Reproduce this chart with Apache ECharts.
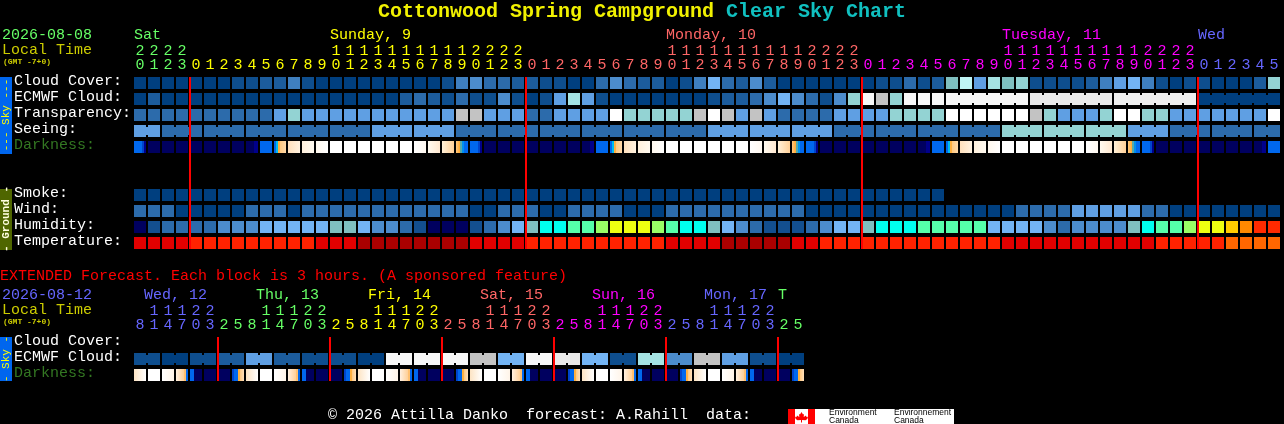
<!DOCTYPE html>
<html><head><meta charset="utf-8">
<style>html,body{margin:0;padding:0;background:#000;overflow:hidden}#c{width:1284px;height:424px}</style>
<script src="https://cdn.jsdelivr.net/npm/echarts@6/dist/echarts.min.js"></script>
</head><body><div id="c"></div>
<script>
const MONO='"Liberation Mono","DejaVu Sans Mono",monospace';
// ---- categories
const hoursMain=[20,21,22,23,
 0,1,2,3,4,5,6,7,8,9,10,11,12,13,14,15,16,17,18,19,20,21,22,23,
 0,1,2,3,4,5,6,7,8,9,10,11,12,13,14,15,16,17,18,19,20,21,22,23,
 0,1,2,3,4,5,6,7,8,9,10,11,12,13,14,15,16,17,18,19,20,21,22,23,
 0,1,2,3,4,5];
const hoursExt=[8,11,14,17,20,23,2,5,8,11,14,17,20,23,2,5,8,11,14,17,20,23,2,5,8,11,14,17,20,23,2,5,8,11,14,17,20,23,2,5,8,11,14,17,20,23,2,5];
const mainRows=['Cloud Cover:','ECMWF Cloud:','Transparency:','Seeing:','Darkness:','','','Smoke:','Wind:','Humidity:','Temperature:'];
const extRows=['Cloud Cover:','ECMWF Cloud:','Darkness:'];
const mainDays=[['Sat',0],['Sunday, 9',14],['Monday, 10',38],['Tuesday, 11',62],['Wed',76]];
const extDays=[['Wed, 12',0],['Thu, 13',8],['Fri, 14',16],['Sat, 15',24],['Sun, 16',32],['Mon, 17',40],['T',46]];
const mainMidnights=[4,28,52,76];
const extMidnights=[6,14,22,30,38,46];
// ---- series values (palette levels)
const cloudCover=[0,0,0,0,0,0,0,1,1,2,2,4,1,0,0,0,0,0,0,0,0,0,1,4,5,3,3,2,2,1,1,0,0,3,5,3,2,2,0,1,4,7,3,2,5,2,0,0,0,0,0,0,0,1,1,3,1,2,8,11,6,10,8,9,1,1,1,1,2,4,6,7,4,1,0,1,1,0,0,0,2,9];
const ecmwfCloud=[0,2,0,0,0,0,0,0,0,0,0,0,0,0,0,0,0,0,0,2,3,2,1,3,1,1,5,1,0,1,6,10,6,1,0,0,0,0,0,0,0,1,2,2,3,5,7,5,3,1,5,9,15,12,9,15,15,15,15,15,15,15,15,15,13,13,13,13,13,13,16,16,16,16,16,16,0,0,0,0,0,0];
const ecmwfRuns=[1,1,1,1,1,1,1,1,1,1,1,1,1,1,1,1,1,1,1,1,1,1,1,1,1,1,1,1,1,1,1,1,1,1,1,1,1,1,1,1,1,1,1,1,1,1,1,1,1,1,1,1,1,1,1,1,1,1,6,6,6,6];
const transparency=[3,3,3,3,3,3,3,3,3,3,6,9,6,6,6,6,6,6,6,6,6,6,6,12,12,6,6,6,3,3,6,6,6,6,14,9,9,9,9,9,12,14,12,6,12,6,3,3,3,3,6,6,6,6,9,9,9,9,14,14,14,14,14,14,12,9,6,6,6,9,14,14,9,9,6,6,6,6,6,6,6,14];
const seeing=[6,6,3,3,3,3,3,3,3,3,3,3,3,3,3,3,3,6,6,6,6,6,6,3,3,3,3,3,3,3,3,3,3,3,3,3,3,3,3,3,3,6,6,6,6,6,6,6,6,6,3,3,3,3,3,3,3,3,3,3,3,3,9,9,9,9,9,9,9,9,9,6,6,6,3,3,3,3,3,3,3,3];
const seeingRuns=[2,3,3,3,3,3,3,3,3,3,3,3,3,3,3,3,3,3,3,3,3,3,3,3,3,3,3,2];
const darkness=[12,0,0,0,0,0,0,0,1,2,3,4,5,6,7,7,7,7,7,7,8,9,10,11,12,0,0,0,0,0,0,0,1,2,3,4,5,6,7,7,7,7,7,7,8,9,10,11,12,0,0,0,0,0,0,0,1,2,3,4,5,6,7,7,7,7,7,7,8,9,10,11,12,0,0,0,0,0,0,0,1,2];
const smoke=[0,0,0,0,0,0,0,0,0,0,0,0,0,0,0,0,0,0,0,0,0,0,0,0,0,0,0,0,0,0,0,0,0,0,0,0,0,0,0,0,0,0,0,0,0,0,0,0,0,0,0,0,0,0,0,0,0,0];
const wind=[3,3,3,0,0,0,0,0,3,3,3,0,3,3,3,3,3,3,3,3,3,3,3,3,0,0,3,3,3,0,0,3,3,3,3,0,0,0,3,3,3,3,3,3,3,3,3,3,0,0,0,0,0,0,0,0,0,0,0,0,0,0,0,3,3,3,3,6,6,6,6,6,3,3,0,0,0,0,0,0,0,0];
const humidity=[0,1,2,2,2,2,3,3,3,4,4,4,4,4,5,5,4,3,3,2,1,0,0,0,1,2,3,4,5,6,6,7,7,8,9,9,9,8,7,6,6,5,4,3,2,1,1,1,2,3,4,4,5,6,6,6,7,7,7,7,7,4,4,4,4,3,2,3,3,3,3,5,6,7,7,8,9,9,10,11,12,12];
const temperature=[1,1,1,1,2,2,2,2,2,2,2,2,2,1,1,1,0,0,0,0,0,0,0,0,1,1,1,1,2,2,2,2,2,2,2,2,2,2,1,1,1,1,0,0,0,0,0,1,1,2,2,2,2,2,2,2,2,2,2,2,2,2,1,1,1,1,1,1,1,1,1,1,1,2,2,2,2,2,3,3,3,3];
const extEcmwf=[1,1,0,0,1,1,2,2,6,6,2,2,1,1,1,1,0,0,15,15,15,15,15,15,12,12,7,7,15,15,13,13,7,7,1,1,10,10,5,5,12,12,6,6,1,1,0,0];
const extEcmwfRuns=[2,2,2,2,2,2,2,2,2,2,2,2,2,2,2,2,2,2,2,2,2,2,2,2];
const extDarkness=[13,7,14,15,16,0,0,17,13,7,14,15,16,0,0,17,13,7,14,15,16,0,0,17,13,7,14,15,16,0,0,17,13,7,14,15,16,0,0,17,13,7,14,15,16,0,0,17];
// ---- palettes
const skyPalette=['#003F7F','#0E4E8E','#1C5C9C','#2C6BAB','#3F7FBF','#4C8CCC','#5F9FE3','#73B4F4','#7FBFBF','#93D3D3','#A5E3E3','#BFF5F5','#C3C3C3','#E9E9E9','#FFFFFF','#F8F8F8','#EFEFEF'];
const humidityPalette=['#00005F','#134F8F','#2C6BAB','#4C8CCC','#73B4F4','#7FBFBF','#00FFEE','#55FFAA','#99FF66','#EEFF11','#FFCC00','#FF8800','#FF2A00'];
const temperaturePalette=['#AA0000','#E20000','#FF2200','#FF6600'];
const darknessPalette=[
 '#00005F',
 [[0,'#00005F'],[.7,'#00005F'],[.7,'#00008B'],[1,'#00008B']],
 '#0068EE',
 [[0,'#0068EE'],[.17,'#0068EE'],[.17,'#00BBEE'],[.33,'#00BBEE'],[.33,'#FFB040'],[.5,'#FFB040'],[.5,'#FFC880'],[1,'#FFD8A8']],
 [[0,'#FFE0BC'],[1,'#FFF2E0']],
 [[0,'#FFF0DC'],[1,'#FFFAF0']],
 [[0,'#FFF8EE'],[1,'#FFFFFF']],
 '#FFFFFF',
 [[0,'#FFFFFF'],[1,'#FFF8F0']],
 [[0,'#FFFAF0'],[1,'#FFE8D0']],
 [[0,'#FFF0D8'],[1,'#FFD098']],
 [[0,'#FFC880'],[.33,'#FFA830'],[.33,'#55AAAA'],[.5,'#55AAAA'],[.5,'#0090EE'],[.67,'#0090EE'],[.67,'#0068EE'],[1,'#0068EE']],
 [[0,'#0068EE'],[.65,'#0068EE'],[.65,'#0044CC'],[.83,'#0044CC'],[.83,'#00008B'],[1,'#00008B']],
 [[0,'#FDE4C4'],[1,'#FFFFFF']],
 [[0,'#FFFFFF'],[1,'#FFF4E8']],
 [[0,'#FFF0E0'],[.66,'#FFD098'],[.66,'#FFC070'],[.83,'#FFC070'],[.83,'#0068EE'],[1,'#0068EE']],
 [[0,'#0068EE'],[.33,'#0068EE'],[.33,'#00005F'],[1,'#00005F']],
 [[0,'#0044CC'],[.17,'#0044CC'],[.17,'#0068EE'],[.5,'#0068EE'],[.5,'#FFB040'],[.67,'#FFB040'],[.67,'#FFC880'],[1,'#FFE0BC']]
];
const green='#66FF66',yellow='#FFFF00',salmon='#FF6666',magenta='#FF00FF',blue='#6666FF';
const mainDayColors=[green,yellow,salmon,magenta,blue];
const extDayColors=[blue,green,yellow,salmon,magenta,blue,green];
const mainColColor=i=>mainDayColors[[0,4,28,52,76].filter(s=>s<=i).length-1];
const extColColor=i=>extDayColors[[0,6,14,22,30,38,46].filter(s=>s<=i).length-1];

function fillOf(p){return typeof p==='string'?p:new echarts.graphic.LinearGradient(0,0,1,0,p.map(s=>({offset:s[0],color:s[1]})));}
function rowSeries(gridIdx,row,values,palette,runs){
  const link={};
  if(runs){let c=0;runs.forEach(r=>{for(let k=0;k<r-1;k++)link[c+k]=1;c+=r;});}
  const data=values.map((v,i)=>[i,row,v,link[i]?1:0]);
  return {type:'custom',xAxisIndex:gridIdx?2:0,yAxisIndex:gridIdx,silent:true,clip:false,data,encode:{x:0,y:1},
    renderItem(params,api){
      const c=api.coord([api.value(0),api.value(1)]),w=api.size([1,1])[0];
      const fill=fillOf(palette[api.value(2)]),x=c[0]-w/2+1,y=c[1]-6;
      const kids=[{type:'rect',shape:{x,y,width:w-2,height:12},style:{fill}}];
      if(api.value(3))kids.push({type:'rect',shape:{x:x+w-2,y:y+2,width:2,height:8},style:{fill}});
      return {type:'group',children:kids};
    }};
}
function lineSeries(gridIdx,cols,firstRow,lastRow){
  return {type:'custom',xAxisIndex:gridIdx?2:0,yAxisIndex:gridIdx,silent:true,clip:false,z:5,data:cols.map(c=>[c,firstRow]),encode:{x:0,y:1},
    renderItem(params,api){
      const a=api.coord([api.value(0),firstRow]),b=api.coord([api.value(0),lastRow]),w=api.size([1,1])[0];
      return {type:'rect',shape:{x:a[0]-w/2,y:a[1]-6,width:2,height:b[1]-a[1]+12},style:{fill:'#FF0000'}};
    }};
}
function dayLabelSeries(gridIdx,days,colors,up,wide){
  return {type:'custom',xAxisIndex:gridIdx?2:0,yAxisIndex:gridIdx,silent:true,clip:false,data:days.map(d=>[d[1],0]),encode:{x:0,y:1},
    renderItem(params,api){
      const i=params.dataIndex,c=api.coord([api.value(0),0]),w=api.size([1,1])[0];
      const off=(wide&&days[i][0].length>1)?11:1;
      return {type:'text',style:{text:days[i][0],x:c[0]-w/2+off,y:c[1]-up,fill:colors[i],font:'15px '+MONO,textAlign:'left',textVerticalAlign:'middle'}};
    }};
}
const tens=h=>h>=10?String(Math.floor(h/10)):'';
const ones=h=>String(h%10);
const hiddenAxis={axisLine:{show:false},axisTick:{show:false},splitLine:{show:false}};
function hourAxis(gridIndex,labels,colorFn,offset){
  return Object.assign({type:'category',gridIndex,position:'top',offset,data:labels,
    axisLabel:{interval:0,margin:2,color:(v,i)=>colorFn(i),fontFamily:MONO,fontSize:15,lineHeight:15}},hiddenAxis);
}
function rowAxis(gridIndex,rows,margin){
  const st=c=>({color:c,fontFamily:MONO,fontSize:15,padding:[0,0,4,0]});
  return Object.assign({type:'category',gridIndex,inverse:true,data:rows,
    axisLabel:{interval:0,margin,align:'left',
      formatter:v=>v?(v==='Darkness:'?'{d|'+v+'}':'{w|'+v+'}'):'',
      rich:{d:st('#337722'),w:st('#FFFFFF')}}},hiddenAxis);
}
const T=(text,x,y,fill,font,extra)=>Object.assign({type:'text',x,y,silent:true,style:{text,x:0,y:0,fill,font:font||('15px '+MONO),textVerticalAlign:'middle'}},extra||{});
const R=(x,y,w,h,fill)=>({type:'rect',silent:true,shape:{x,y,width:w,height:h},style:{fill}});
const side=(text,y,fill,bold)=>T(text,6,y,fill,(bold?'bold ':'')+'11px '+MONO,{rotation:Math.PI/2,style:{text,x:0,y:0,fill,font:(bold?'bold ':'')+'11px '+MONO,textAlign:'center',textVerticalAlign:'middle'}});
const leaf=[[801.5,412],[803,414.5],[804,414],[803.7,417],[806,415.5],[806.5,417],[808,416.8],[807.3,419],[805.5,420.2],[802,420],[802,422.5],[801,422.5],[801,420],[797.5,420.2],[795.7,419],[795,416.8],[796.5,417],[797,415.5],[799.3,417],[799,414],[800,414.5]];

const chart=echarts.init(document.getElementById('c'),null,{renderer:'canvas'});
chart.setOption({
  animation:false,backgroundColor:'#000',tooltip:{show:false},
  title:{text:'{a|Cottonwood Spring Campground}{b| Clear Sky Chart}',left:378,top:1,padding:0,
    textStyle:{rich:{a:{fontFamily:MONO,fontWeight:'bold',fontSize:20,color:'#F0F000',lineHeight:22},b:{fontFamily:MONO,fontWeight:'bold',fontSize:20,color:'#10C0C0',lineHeight:22}}}},
  grid:[{left:133,top:75,width:1148,height:176},{left:133,top:335,width:672,height:48}],
  xAxis:[
    hourAxis(0,hoursMain.map(ones),mainColColor,0),
    hourAxis(0,hoursMain.map(tens),mainColColor,14),
    hourAxis(1,hoursExt.map(ones),extColColor,0),
    hourAxis(1,hoursExt.map(tens),extColColor,14)
  ],
  yAxis:[rowAxis(0,mainRows,119),rowAxis(1,extRows,119)],
  series:[
    rowSeries(0,0,cloudCover,skyPalette),
    rowSeries(0,1,ecmwfCloud,skyPalette,ecmwfRuns),
    rowSeries(0,2,transparency,skyPalette),
    rowSeries(0,3,seeing,skyPalette,seeingRuns),
    rowSeries(0,4,darkness,darknessPalette),
    rowSeries(0,7,smoke,skyPalette),
    rowSeries(0,8,wind,skyPalette),
    rowSeries(0,9,humidity,humidityPalette),
    rowSeries(0,10,temperature,temperaturePalette),
    lineSeries(0,mainMidnights,0,10),
    dayLabelSeries(0,mainDays,mainDayColors,48,false),
    rowSeries(1,1,extEcmwf,skyPalette,extEcmwfRuns),
    rowSeries(1,2,extDarkness,darknessPalette),
    lineSeries(1,extMidnights,0,2),
    dayLabelSeries(1,extDays,extDayColors,48,true)
  ],
  graphic:[
    T('2026-08-08',2,35,green),
    T('Local Time',2,50,'#CCCC00'),
    T('(GMT -7+0)',3,62,'#CCCC00','bold 8px '+MONO),
    R(0,77,12,77,'#0066EE'),
    side('--- Sky ---',115,'#FFFF00'),
    R(0,189,12,61,'#4F6600'),
    side('- Ground -',219,'#FFFFE0',true),
    T('EXTENDED Forecast. Each block is 3 hours. (A sponsored feature)',0,276,'#FF0000'),
    T('2026-08-12',2,295,blue),
    T('Local Time',2,310,'#CCCC00'),
    T('(GMT -7+0)',3,322,'#CCCC00','bold 8px '+MONO),
    R(0,337,12,44,'#0066EE'),
    side('- Sky -',359,'#FFFF00'),
    T('\u00A9 2026 Attilla Danko  forecast: A.Rahill  data:',328,415,'#FFFFFF'),
    R(788,409,27,15,'#FF0000'),
    R(795,409,13,15,'#FFFFFF'),
    {type:'polygon',silent:true,shape:{points:leaf},style:{fill:'#FF0000'}},
    R(815,409,139,15,'#FFFFFF'),
    T('Environment',829,413,'#000','8.5px "Liberation Sans"'),
    T('Canada',829,420.5,'#000','8.5px "Liberation Sans"'),
    T('Environnement',894,413,'#000','8.5px "Liberation Sans"'),
    T('Canada',894,420.5,'#000','8.5px "Liberation Sans"')
  ]
});
</script></body></html>
